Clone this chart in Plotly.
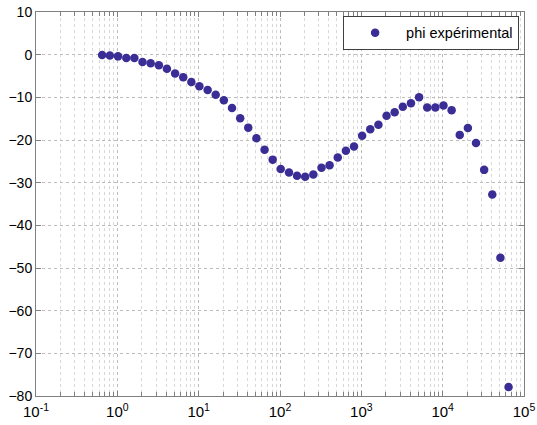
import plotly.graph_objects as go

freq_hz = [0.65, 0.81, 1.02, 1.29, 1.62, 2.04, 2.57, 3.24, 4.07, 5.13,
           6.46, 8.13, 10.2, 12.9, 16.2, 20.4, 25.7, 32.4, 40.7, 51.3,
           64.6, 81.3, 102, 129, 162, 204, 257, 324, 407, 513,
           646, 813, 1023, 1288, 1622, 2042, 2570, 3236, 4074, 5129,
           6457, 8128, 10233, 12882, 16218, 20417, 25704, 32359, 40738, 51286,
           64565]
phi_deg = [-0.1, -0.2, -0.4, -0.8, -0.8, -1.7, -2.0, -2.5, -3.3, -4.4,
           -5.3, -6.4, -7.4, -8.3, -9.4, -10.7, -12.5, -14.9, -17.1, -19.6,
           -22.3, -24.6, -26.8, -27.6, -28.4, -28.6, -28.1, -26.5, -25.9, -24.1,
           -22.5, -21.5, -19.0, -17.5, -16.4, -14.3, -13.5, -12.2, -11.4, -10.0,
           -12.4, -12.4, -11.9, -13.0, -18.8, -17.2, -20.7, -27.0, -32.8, -47.6,
           -77.9]

x_tick_vals = [0.1, 1, 10, 100, 1000, 10000, 100000]
x_tick_text = ["10<sup>-1</sup>", "10<sup>0</sup>", "10<sup>1</sup>", "10<sup>2</sup>",
               "10<sup>3</sup>", "10<sup>4</sup>", "10<sup>5</sup>"]
y_tick_vals = [10, 0, -10, -20, -30, -40, -50, -60, -70, -80]

minor_vals = [m * 10 ** e for e in range(-1, 5) for m in range(2, 10)]

fig = go.Figure()
fig.add_trace(go.Scatter(
    x=freq_hz, y=phi_deg, mode="markers", name="phi expérimental",
    marker=dict(color="#3a2d95", size=8.5),
))

axis_col = "#808080"
fig.update_layout(
    width=537, height=425,
    margin=dict(l=36, r=13, t=12, b=29, autoexpand=False),
    paper_bgcolor="white", plot_bgcolor="white",
    font=dict(family="Liberation Sans, Arial, sans-serif", size=14, color="black"),
    showlegend=True,
    legend=dict(
        x=0.99, y=0.99, xanchor="right", yanchor="top",
        bgcolor="white", bordercolor="#404040", borderwidth=1,
        font=dict(size=14.5), itemwidth=52,
    ),
    xaxis=dict(
        type="log", range=[-1, 5], automargin=False,
        tickmode="array", tickvals=x_tick_vals, ticktext=x_tick_text,
        tickfont=dict(size=15), ticklabelstandoff=2,
        showline=True, linecolor=axis_col, linewidth=1, mirror="allticks",
        ticks="inside", ticklen=5, tickcolor=axis_col,
        showgrid=True, gridcolor="#bcbcbc", griddash="dot", gridwidth=1,
        zeroline=False,
        minor=dict(tickmode="array", tickvals=minor_vals, ticks="inside", ticklen=4,
                   tickcolor=axis_col, showgrid=True, gridcolor="#d8d8d8",
                   griddash="dot", gridwidth=1),
    ),
    yaxis=dict(
        range=[-80, 10], automargin=False,
        tickmode="array", tickvals=y_tick_vals,
        showline=True, linecolor=axis_col, linewidth=1, mirror="allticks",
        ticks="inside", ticklen=5, tickcolor=axis_col,
        showgrid=True, gridcolor="#bcbcbc", griddash="dot", gridwidth=1,
        zeroline=False,
    ),
)

fig.write_html("out.html", config={"displayModeBar": False},
               post_script="document.body.style.margin='0';document.body.style.overflow='hidden';")
